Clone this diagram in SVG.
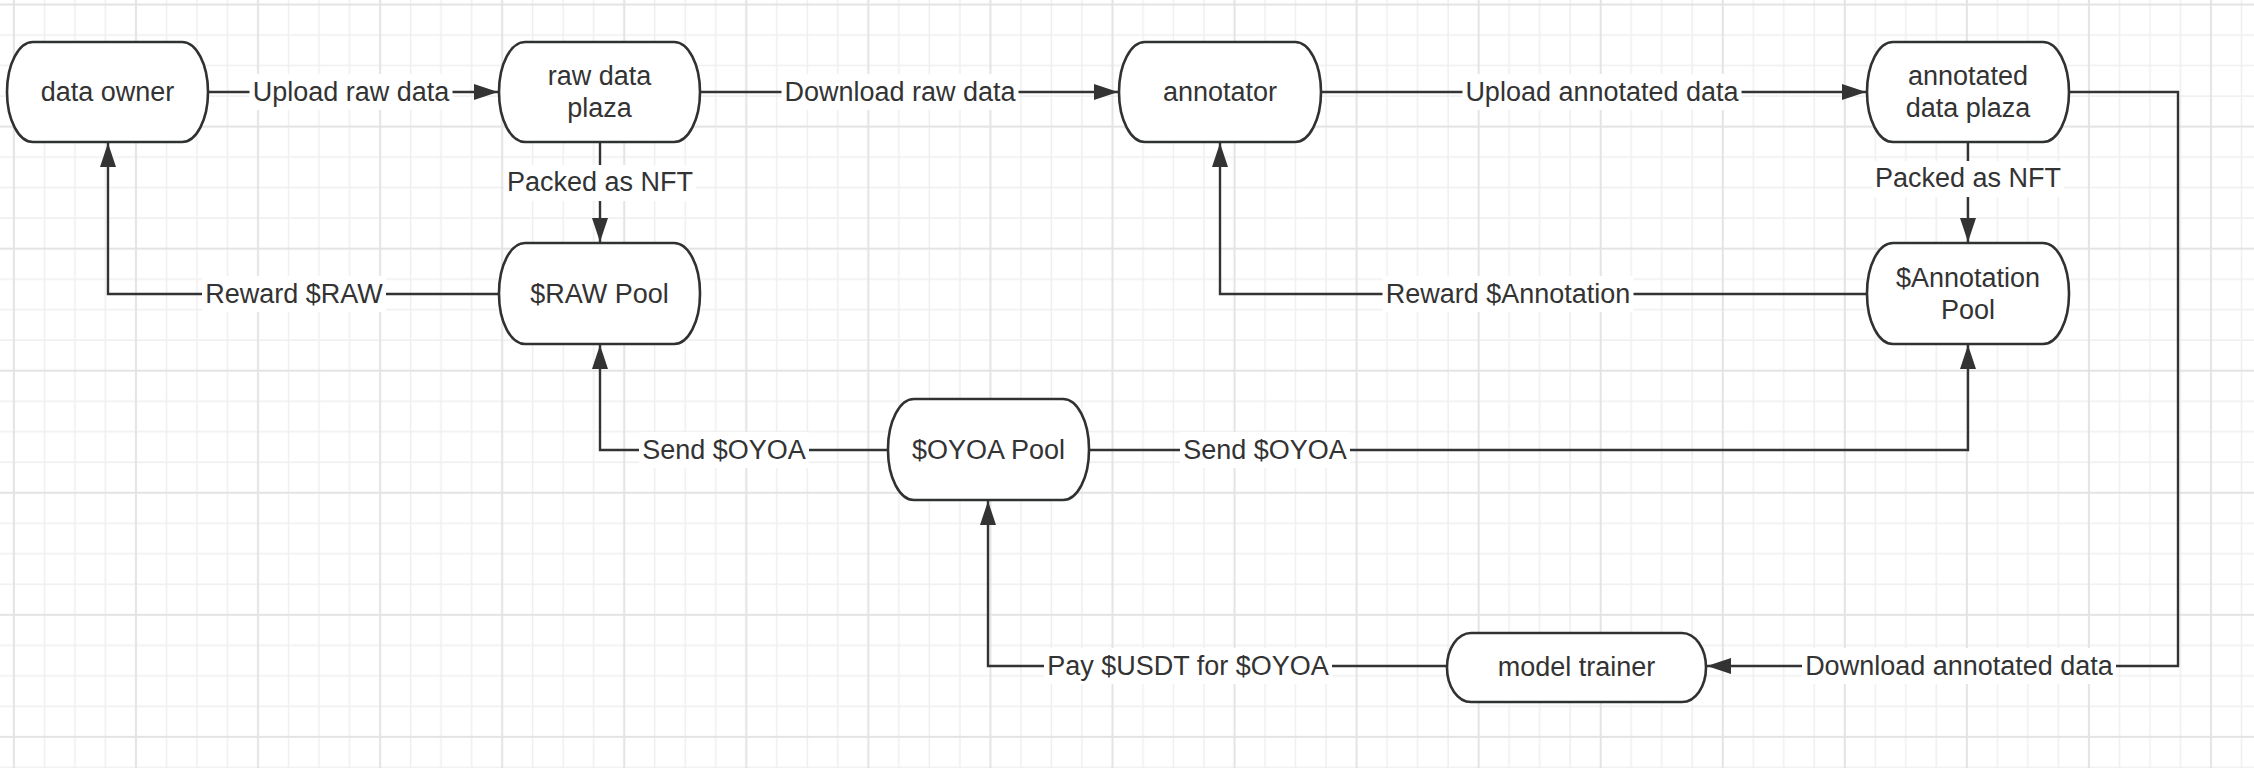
<svg xmlns="http://www.w3.org/2000/svg" width="2254" height="768" viewBox="0 0 2254 768">
<style>
.node rect{fill:#fff;stroke:#2f3133;stroke-width:2.6}
.node text,.lbl text{font-family:"Liberation Sans",Arial,Helvetica,sans-serif;font-size:27px;fill:#333;text-anchor:middle}
.conn path{fill:none;stroke:#333;stroke-width:2.4}
.lbl rect{fill:#fff}
</style>
<defs>
<pattern id="grid" patternUnits="userSpaceOnUse" x="-62.39" y="-71.79" width="122.06" height="122.06">
<rect x="14.51" y="0" width="1.5" height="122.06" fill="#efefef"/>
<rect x="45.03" y="0" width="1.5" height="122.06" fill="#efefef"/>
<rect x="106.05" y="0" width="1.5" height="122.06" fill="#efefef"/>
<rect x="0" y="14.51" width="122.06" height="1.5" fill="#efefef"/>
<rect x="0" y="45.03" width="122.06" height="1.5" fill="#efefef"/>
<rect x="0" y="106.05" width="122.06" height="1.5" fill="#efefef"/>
<rect x="75.29" y="0" width="2" height="122.06" fill="#e3e3e3"/>
<rect x="0" y="75.29" width="122.06" height="2" fill="#e3e3e3"/>
</pattern>
<marker id="arr" markerUnits="userSpaceOnUse" markerWidth="24" markerHeight="16" refX="24" refY="8" orient="auto" viewBox="0 0 24 16">
<path d="M0,0 L24,8 L0,16 z" fill="#333"/>
</marker>
</defs>
<rect x="0" y="0" width="2254" height="768" fill="#fff"/>
<rect x="0" y="0" width="2254" height="768" fill="url(#grid)"/>

<g id="connectors" class="conn">
<path id="e1" d="M208,92 H498" marker-end="url(#arr)"/>
<path id="e2" d="M700,92 H1118" marker-end="url(#arr)"/>
<path id="e3" d="M1321,92 H1866" marker-end="url(#arr)"/>
<path id="e4" d="M600,142 V242" marker-end="url(#arr)"/>
<path id="e5" d="M1968,142 V242" marker-end="url(#arr)"/>
<path id="e6" d="M499,294 H108 V143" marker-end="url(#arr)"/>
<path id="e7" d="M1867,294 H1220 V143" marker-end="url(#arr)"/>
<path id="e8" d="M888,450 H600 V345" marker-end="url(#arr)"/>
<path id="e9" d="M1089,450 H1968 V345" marker-end="url(#arr)"/>
<path id="e10" d="M2069,92 H2178 V666 H1707" marker-end="url(#arr)"/>
<path id="e11" d="M1447,666 H988 V501" marker-end="url(#arr)"/>
</g>

<g id="labels" class="lbl">
<rect x="249.5" y="74" width="203" height="36"/><text x="351" y="101">Upload raw data</text>
<rect x="781.5" y="74" width="237" height="36"/><text x="900" y="101">Download raw data</text>
<rect x="1462.5" y="74" width="279" height="36"/><text x="1602" y="101">Upload annotated data</text>
<rect x="504" y="165" width="192" height="36"/><text x="600" y="191">Packed as NFT</text>
<rect x="1872" y="161" width="192" height="36"/><text x="1968" y="187">Packed as NFT</text>
<rect x="202" y="276" width="184" height="36"/><text x="294" y="303">Reward $RAW</text>
<rect x="1382.5" y="276" width="251" height="36"/><text x="1508" y="303">Reward $Annotation</text>
<rect x="639" y="432" width="170" height="36"/><text x="724" y="459">Send $OYOA</text>
<rect x="1180" y="432" width="170" height="36"/><text x="1265" y="459">Send $OYOA</text>
<rect x="1044" y="648" width="288" height="36"/><text x="1188" y="675">Pay $USDT for $OYOA</text>
<rect x="1802" y="648" width="314" height="36"/><text x="1959" y="675">Download annotated data</text>
</g>

<g id="n-data-owner" class="node"><rect x="7" y="42" width="201" height="100" rx="26" ry="50"/><text x="107.5" y="101">data owner</text></g>
<g id="n-raw-plaza" class="node"><rect x="499" y="42" width="201" height="100" rx="26" ry="50"/><text x="599.5" y="85">raw data</text><text x="599.5" y="117">plaza</text></g>
<g id="n-annotator" class="node"><rect x="1119" y="42" width="202" height="100" rx="26" ry="50"/><text x="1220" y="101">annotator</text></g>
<g id="n-annotated-plaza" class="node"><rect x="1867" y="42" width="202" height="100" rx="26" ry="50"/><text x="1968" y="85">annotated</text><text x="1968" y="117">data plaza</text></g>
<g id="n-raw-pool" class="node"><rect x="499" y="243" width="201" height="101" rx="26" ry="50"/><text x="599.5" y="303">$RAW Pool</text></g>
<g id="n-annotation-pool" class="node"><rect x="1867" y="243" width="202" height="101" rx="26" ry="50"/><text x="1968" y="287">$Annotation</text><text x="1968" y="319">Pool</text></g>
<g id="n-oyoa-pool" class="node"><rect x="888" y="399" width="201" height="101" rx="26" ry="50"/><text x="988.5" y="459">$OYOA Pool</text></g>
<g id="n-model-trainer" class="node"><rect x="1447" y="633" width="259" height="69" rx="24" ry="34.5"/><text x="1576.5" y="676">model trainer</text></g>
</svg>
